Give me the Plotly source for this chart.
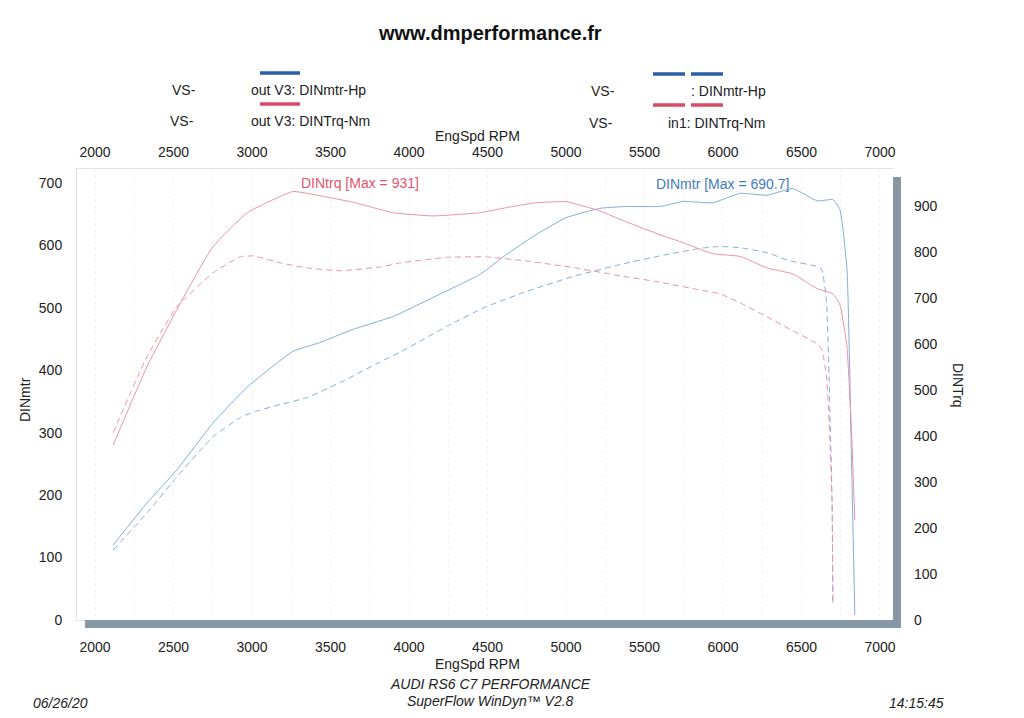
import plotly.graph_objects as go

# ---------------- data ----------------
rpm_a = [2115, 2330, 2520, 2750, 2970, 3260, 3430, 3640, 3900, 4150, 4450, 4620, 4790, 5000,
         5215, 5385, 5600, 5745, 5935, 6110, 6280, 6445, 6600, 6700, 6745, 6790, 6820, 6840]
hp_a = [120, 187, 240, 315, 373, 430, 444, 465, 486, 516, 553, 585, 614, 644,
        659, 662, 662, 670, 668, 683, 680, 690.7, 671, 673, 657, 561, 240, 8]
nm_a = [380, 550, 674, 811, 885, 931, 922, 908, 885, 878, 885, 896, 906, 909,
        889, 865, 837, 820, 796, 790, 765, 752, 720, 709, 685, 593, 398, 217]

rpm_b = [2115, 2330, 2520, 2750, 2925, 3010, 3180, 3350, 3560, 3815, 3945, 4240, 4495, 4750,
         5045, 5345, 5600, 5855, 5980, 6110, 6280, 6425, 6600, 6630, 6660, 6680, 6695, 6700]
hp_b = [112, 171, 229, 293, 324, 333, 345, 356, 380, 413, 429, 470, 502, 526,
        550, 569, 583, 595, 598, 596, 588, 575, 566, 561, 508, 348, 188, 27]
nm_b = [407, 572, 680, 754, 789, 791, 776, 765, 759, 767, 776, 788, 789, 780,
        766, 748, 734, 717, 709, 689, 659, 632, 600, 587, 528, 398, 254, 37]

x_ticks = [2000, 2500, 3000, 3500, 4000, 4500, 5000, 5500, 6000, 6500, 7000]
hp_ticks = [0, 100, 200, 300, 400, 500, 600, 700]
nm_ticks = [0, 100, 200, 300, 400, 500, 600, 700, 800, 900]

# ---------------- layout helpers ----------------
OFF = 8  # page body margin in the browser
W, H = 1024 - OFF, 718 - OFF
L, R, T, B = 77 - OFF, 893 - OFF, 169 - OFF, 620 - OFF


def px(xp):
    return (xp - OFF - L) / (R - L)


def py(yp):
    return (B - (yp - OFF)) / (B - T)


BLUE = "#86acd8"
RED = "#eb94a3"
FONT = "Liberation Sans, Arial, sans-serif"

line_shape = dict(shape="spline", smoothing=0.4)

fig = go.Figure()
fig.add_trace(go.Scatter(x=rpm_a, y=hp_a, mode="lines", line=dict(color=BLUE, width=1, **line_shape),
                         xaxis="x", yaxis="y", showlegend=False))
fig.add_trace(go.Scatter(x=rpm_b, y=hp_b, mode="lines",
                         line=dict(color=BLUE, width=1, dash="6px,4px", **line_shape),
                         xaxis="x", yaxis="y", showlegend=False))
fig.add_trace(go.Scatter(x=rpm_a, y=nm_a, mode="lines", line=dict(color=RED, width=1, **line_shape),
                         xaxis="x", yaxis="y2", showlegend=False))
fig.add_trace(go.Scatter(x=rpm_b, y=nm_b, mode="lines",
                         line=dict(color=RED, width=1, dash="6px,4px", **line_shape),
                         xaxis="x", yaxis="y2", showlegend=False))
# invisible trace to activate top axis
fig.add_trace(go.Scatter(x=[x_ticks[0]], y=[0], mode="markers", marker=dict(opacity=0),
                         xaxis="x2", yaxis="y", showlegend=False, hoverinfo="skip"))

xr = [1885, 7083]
tickfont = dict(family=FONT, size=14, color="#222222")

fig.update_layout(
    width=W, height=H,
    margin=dict(l=L, r=W - R, t=T, b=H - B),
    paper_bgcolor="white", plot_bgcolor="white",
    font=dict(family=FONT, size=14, color="#222222"),
    xaxis=dict(range=xr, tickvals=x_ticks, ticks="", showline=True, linecolor="#dfe3e7",
               linewidth=1, mirror=False, showgrid=True, gridcolor="#eef1f4", griddash="dot",
               minor=dict(dtick=250, showgrid=True, gridcolor="#f1f3f5", griddash="dot"),
               zeroline=False, tickfont=tickfont, ticklabelstandoff=14),
    xaxis2=dict(range=xr, tickvals=x_ticks, overlaying="x", side="top", ticks="",
                showline=True, linecolor="#dfe3e7", showgrid=False, zeroline=False,
                tickfont=tickfont, ticklabelstandoff=5),
    yaxis=dict(range=[0, 722], tickvals=hp_ticks, ticks="", showline=True, linecolor="#dfe3e7",
               showgrid=False, zeroline=False, tickfont=tickfont, ticklabelstandoff=11),
    yaxis2=dict(range=[0, 980], tickvals=nm_ticks, overlaying="y", side="right", ticks="",
                showline=False, showgrid=False, zeroline=False, tickfont=tickfont,
                ticklabelstandoff=20),
)

SH = "#8797a6"
shapes = [
    dict(type="rect", xref="paper", yref="paper", x0=px(893), x1=px(901), y0=py(628), y1=py(177),
         fillcolor=SH, line=dict(width=0), layer="above"),
    dict(type="rect", xref="paper", yref="paper", x0=px(85), x1=px(901), y0=py(628), y1=py(620),
         fillcolor=SH, line=dict(width=0), layer="above"),
    # legend swatches
    dict(type="line", xref="paper", yref="paper", x0=px(260), x1=px(300), y0=py(73), y1=py(73),
         line=dict(color="#2b5ea8", width=3.5)),
    dict(type="line", xref="paper", yref="paper", x0=px(260), x1=px(300), y0=py(104), y1=py(104),
         line=dict(color="#d84d66", width=3.5)),
    dict(type="line", xref="paper", yref="paper", x0=px(653), x1=px(685), y0=py(74), y1=py(74),
         line=dict(color="#2b5ea8", width=3.5)),
    dict(type="line", xref="paper", yref="paper", x0=px(691), x1=px(723), y0=py(74), y1=py(74),
         line=dict(color="#2b5ea8", width=3.5)),
    dict(type="line", xref="paper", yref="paper", x0=px(653), x1=px(685), y0=py(105), y1=py(105),
         line=dict(color="#d84d66", width=3.5)),
    dict(type="line", xref="paper", yref="paper", x0=px(691), x1=px(723), y0=py(105), y1=py(105),
         line=dict(color="#d84d66", width=3.5)),
]
fig.update_layout(shapes=shapes)


def ann(text, x, y, xanchor="center", size=14, color="#222222", bold=False, italic=False, angle=0):
    t = text
    if bold:
        t = "<b>" + t + "</b>"
    if italic:
        t = "<i>" + t + "</i>"
    fig.add_annotation(text=t, xref="paper", yref="paper", x=px(x), y=py(y), xanchor=xanchor,
                       yanchor="middle", showarrow=False, textangle=angle,
                       font=dict(family=FONT, size=size, color=color))


ann("www.dmperformance.fr", 490, 33, size=20, color="#111111", bold=True)
ann("VS-", 170, 90, xanchor="left")
ann("out V3: DINmtr-Hp", 249, 90, xanchor="left")
ann("VS-", 168, 121, xanchor="left")
ann("out V3: DINTrq-Nm", 249, 121, xanchor="left")
ann("VS-", 589, 91, xanchor="left")
ann(": DINmtr-Hp", 689, 91, xanchor="left")
ann("VS-", 587, 123, xanchor="left")
ann("in1: DINTrq-Nm", 666, 123, xanchor="left")
ann("EngSpd RPM", 477, 136)
ann("EngSpd RPM", 477, 664)
ann("DINmtr", 25, 400, angle=-90)
ann("DINTrq", 958, 385, angle=90)
ann("DINtrq [Max = 931]", 360, 183, color="#e0566f")
ann("DINmtr [Max = 690.7]", 722, 184, color="#3f7bc2")
ann("AUDI RS6 C7 PERFORMANCE", 490, 684, italic=True)
ann("SuperFlow WinDyn\u2122 V2.8", 490, 701, italic=True)
ann("06/26/20", 60, 703, italic=True)
ann("14:15:45", 917, 703, italic=True)

fig.write_html("out.html")
